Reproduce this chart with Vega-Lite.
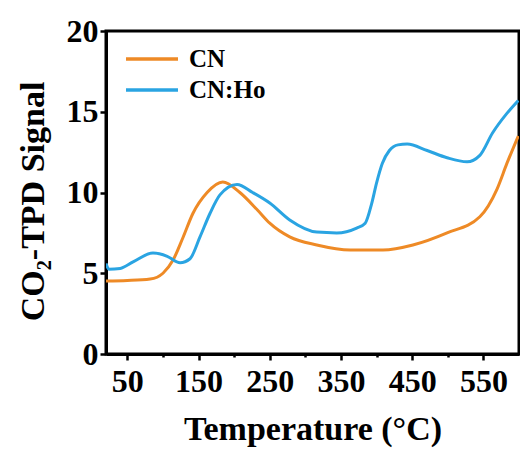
{
  "$schema": "https://vega.github.io/schema/vega-lite/v6.json",
  "autosize": {"type": "none"},
  "width": 413,
  "height": 323,
  "padding": {"left": 106, "top": 31, "right": 1, "bottom": 95},
  "background": "white",
  "config": {
    "view": {"stroke": "black", "strokeWidth": 3},
    "font": "Liberation Serif",
    "axis": {"grid": false, "domainColor": "black", "domainWidth": 3, "tickColor": "black", "tickWidth": 2.5, "tickSize": 6,
      "labelFont": "Liberation Serif", "labelFontWeight": "bold", "labelFontSize": 32, "labelColor": "black",
      "titleFont": "Liberation Serif", "titleFontWeight": "bold", "titleFontSize": 34, "titleColor": "black"}
  },
  "data": {"values": [
    {"T": 20, "V": 4.52, "s": "CN"},
    {"T": 50, "V": 4.55, "s": "CN"},
    {"T": 82, "V": 4.64, "s": "CN"},
    {"T": 100, "V": 5.0, "s": "CN"},
    {"T": 114, "V": 5.8, "s": "CN"},
    {"T": 128, "V": 7.2, "s": "CN"},
    {"T": 142, "V": 8.7, "s": "CN"},
    {"T": 162, "V": 10.0, "s": "CN"},
    {"T": 184, "V": 10.65, "s": "CN"},
    {"T": 208, "V": 10.0, "s": "CN"},
    {"T": 233, "V": 8.9, "s": "CN"},
    {"T": 250, "V": 8.1, "s": "CN"},
    {"T": 278, "V": 7.25, "s": "CN"},
    {"T": 316, "V": 6.75, "s": "CN"},
    {"T": 363, "V": 6.44, "s": "CN"},
    {"T": 409, "V": 6.44, "s": "CN"},
    {"T": 451, "V": 6.75, "s": "CN"},
    {"T": 499, "V": 7.5, "s": "CN"},
    {"T": 545, "V": 8.5, "s": "CN"},
    {"T": 569, "V": 10.2, "s": "CN"},
    {"T": 583, "V": 11.8, "s": "CN"},
    {"T": 599, "V": 13.5, "s": "CN"},
    {"T": 20, "V": 5.6, "s": "CN:Ho"},
    {"T": 24, "V": 5.25, "s": "CN:Ho"},
    {"T": 40, "V": 5.3, "s": "CN:Ho"},
    {"T": 58, "V": 5.7, "s": "CN:Ho"},
    {"T": 86, "V": 6.25, "s": "CN:Ho"},
    {"T": 106, "V": 6.05, "s": "CN:Ho"},
    {"T": 124, "V": 5.65, "s": "CN:Ho"},
    {"T": 138, "V": 5.9, "s": "CN:Ho"},
    {"T": 152, "V": 7.25, "s": "CN:Ho"},
    {"T": 166, "V": 8.7, "s": "CN:Ho"},
    {"T": 180, "V": 9.85, "s": "CN:Ho"},
    {"T": 204, "V": 10.5, "s": "CN:Ho"},
    {"T": 226, "V": 10.0, "s": "CN:Ho"},
    {"T": 250, "V": 9.35, "s": "CN:Ho"},
    {"T": 278, "V": 8.3, "s": "CN:Ho"},
    {"T": 316, "V": 7.55, "s": "CN:Ho"},
    {"T": 344, "V": 7.5, "s": "CN:Ho"},
    {"T": 372, "V": 7.8, "s": "CN:Ho"},
    {"T": 384, "V": 8.1, "s": "CN:Ho"},
    {"T": 393, "V": 9.3, "s": "CN:Ho"},
    {"T": 400, "V": 10.6, "s": "CN:Ho"},
    {"T": 408, "V": 11.8, "s": "CN:Ho"},
    {"T": 418, "V": 12.6, "s": "CN:Ho"},
    {"T": 430, "V": 12.95, "s": "CN:Ho"},
    {"T": 443, "V": 13.0, "s": "CN:Ho"},
    {"T": 471, "V": 12.6, "s": "CN:Ho"},
    {"T": 499, "V": 12.15, "s": "CN:Ho"},
    {"T": 527, "V": 11.9, "s": "CN:Ho"},
    {"T": 545, "V": 12.3, "s": "CN:Ho"},
    {"T": 563, "V": 13.7, "s": "CN:Ho"},
    {"T": 583, "V": 14.9, "s": "CN:Ho"},
    {"T": 599, "V": 15.7, "s": "CN:Ho"}
  ]},
  "mark": {"type": "line", "strokeWidth": 3, "interpolate": "monotone", "clip": true},
  "encoding": {
    "x": {"field": "T", "type": "quantitative", "scale": {"domain": [20, 600], "nice": false, "zero": false},
      "axis": {"values": [50, 100, 150, 200, 250, 300, 350, 400, 450, 500, 550], "labelExpr": "datum.value % 100 === 0 ? '' : datum.label",
        "tickSize": {"condition": {"test": "datum.value % 100 === 0", "value": 3}, "value": 6},
        "title": "Temperature (°C)", "titlePadding": 15, "labelPadding": 6}},
    "y": {"field": "V", "type": "quantitative", "scale": {"domain": [0, 20], "nice": false},
      "axis": {"values": [0, 5, 10, 15, 20], "title": "CO₂-TPD Signal", "titlePadding": 16, "titleY": 170, "labelPadding": 2}},
    "color": {"field": "s", "type": "nominal", "scale": {"domain": ["CN", "CN:Ho"], "range": ["#EE8A26", "#2AA4E2"]},
      "legend": {"title": null, "orient": "none", "legendX": 31, "legendY": 13, "symbolType": "M-2,0H2", "symbolSize": 676, "symbolStrokeWidth": 3.5,
        "labelFont": "Liberation Serif", "labelFontWeight": "bold", "labelFontSize": 25, "labelColor": "black", "rowPadding": 3, "labelOffset": 22}}
  }
}
